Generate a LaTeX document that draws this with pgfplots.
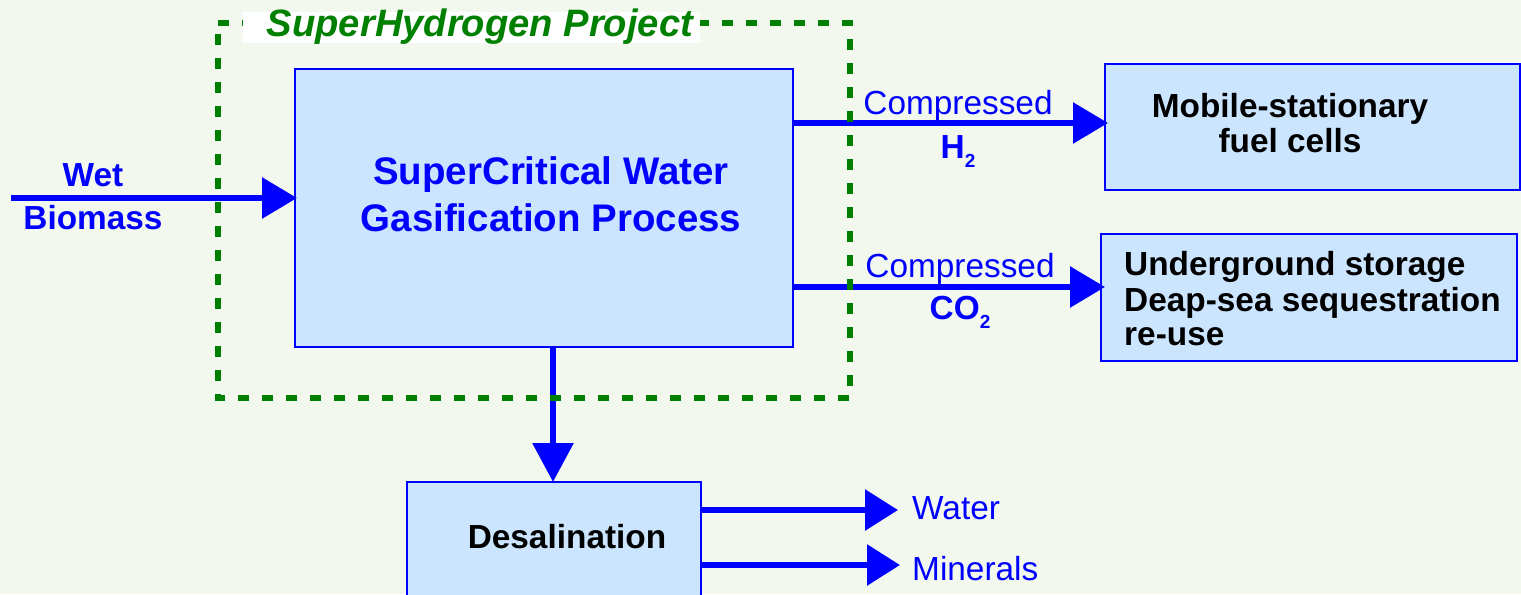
\documentclass[border=0pt]{standalone}
\usepackage{pgfplots}
\pgfplotsset{compat=1.18}
\usepackage{fontspec}
\setmainfont{Liberation Sans}
\usetikzlibrary{arrows.meta}
\definecolor{bg}{HTML}{F3F8EF}
\definecolor{boxfill}{HTML}{CCE5FF}
\definecolor{dblue}{HTML}{0000FF}
\definecolor{dgreen}{HTML}{008000}
\newcommand\fA{\fontsize{33.5}{36}\selectfont}
\newcommand\fB{\fontsize{38.6}{40}\selectfont}
\newcommand\fT{\fontsize{38.3}{40}\selectfont}
\newcommand\sub[1]{\raisebox{-0.28em}{\fontsize{19}{20}\selectfont #1}}
\begin{document}
\begin{tikzpicture}
\begin{axis}[width=1521bp,height=594bp,scale only axis,hide axis,
  xmin=0,xmax=1521,ymin=0,ymax=594,y dir=reverse,clip=true]
% background
\addplot[draw=none, fill=bg] coordinates {(0,0) (1521,0) (1521,594) (0,594)} -- cycle;
% boxes
\addplot[draw=dblue, fill=boxfill, line width=1.5bp] coordinates {(295,69) (793,69) (793,347) (295,347)} -- cycle;
\addplot[draw=dblue, fill=boxfill, line width=1.5bp] coordinates {(1105,64) (1520,64) (1520,190) (1105,190)} -- cycle;
\addplot[draw=dblue, fill=boxfill, line width=1.5bp] coordinates {(1101,234) (1517,234) (1517,361) (1101,361)} -- cycle;
\addplot[draw=dblue, fill=boxfill, line width=1.5bp] coordinates {(407,482) (701,482) (701,610) (407,610)} -- cycle;
% arrows
\addplot[dblue, line width=6bp, -{Triangle[length=35bp,width=40bp]}] coordinates {(11,198) (297,198)};
\addplot[dblue, line width=6bp, -{Triangle[length=35bp,width=40bp]}] coordinates {(793,123) (1108,123)};
\addplot[dblue, line width=6bp, -{Triangle[length=35bp,width=40bp]}] coordinates {(793,287) (1105,287)};
\addplot[dblue, line width=6bp, -{Triangle[length=39bp,width=40bp]}] coordinates {(553,347) (553,482)};
\addplot[dblue, line width=6bp, -{Triangle[length=33bp,width=40bp]}] coordinates {(701,510) (898,510)};
\addplot[dblue, line width=6bp, -{Triangle[length=33bp,width=40bp]}] coordinates {(701,565) (900,565)};
% dashed project box
\addplot[dgreen, line width=6bp, dash pattern=on 11bp off 13bp] coordinates {(218,23) (850,23) (850,398) (218,398)} -- cycle;
\addplot[draw=none, fill=white] coordinates {(243,12) (700,12) (700,43) (243,43)} -- cycle;
% texts
\node[anchor=base, inner sep=0, text=dgreen, font=\fT\bfseries\itshape] at (axis cs:480,37) {SuperHydrogen Project};
\node[anchor=base, inner sep=0, text=dblue, font=\fB\bfseries] at (axis cs:551,184) {SuperCritical Water};
\node[anchor=base, inner sep=0, text=dblue, font=\fB\bfseries] at (axis cs:551,231) {Gasification Process};
\node[anchor=base, inner sep=0, text=dblue, font=\fA\bfseries] at (axis cs:93,186) {Wet};
\node[anchor=base, inner sep=0, text=dblue, font=\fA\bfseries] at (axis cs:93,229) {Biomass};
\node[anchor=base, inner sep=0, text=dblue, font=\fA] at (axis cs:958,114) {Compressed};
\node[anchor=base, inner sep=0, text=dblue, font=\fA\bfseries] at (axis cs:958,158) {H\sub{2}};
\node[anchor=base, inner sep=0, text=dblue, font=\fA] at (axis cs:960,277) {Compressed};
\node[anchor=base, inner sep=0, text=dblue, font=\fA\bfseries] at (axis cs:960,319) {CO\sub{2}};
\node[anchor=base, inner sep=0, text=black, font=\fA\bfseries] at (axis cs:1290,117) {Mobile-stationary};
\node[anchor=base, inner sep=0, text=black, font=\fA\bfseries] at (axis cs:1290,152) {fuel cells};
\node[anchor=base west, inner sep=0, text=black, font=\fA\bfseries] at (axis cs:1124,275) {Underground storage};
\node[anchor=base west, inner sep=0, text=black, font=\fA\bfseries] at (axis cs:1124,311) {Deap-sea sequestration};
\node[anchor=base west, inner sep=0, text=black, font=\fA\bfseries] at (axis cs:1124,345) {re-use};
\node[anchor=base, inner sep=0, text=black, font=\fA\bfseries] at (axis cs:567,548) {Desalination};
\node[anchor=base west, inner sep=0, text=dblue, font=\fA] at (axis cs:912,519) {Water};
\node[anchor=base west, inner sep=0, text=dblue, font=\fA] at (axis cs:912,580) {Minerals};
\end{axis}
\end{tikzpicture}
\end{document}
